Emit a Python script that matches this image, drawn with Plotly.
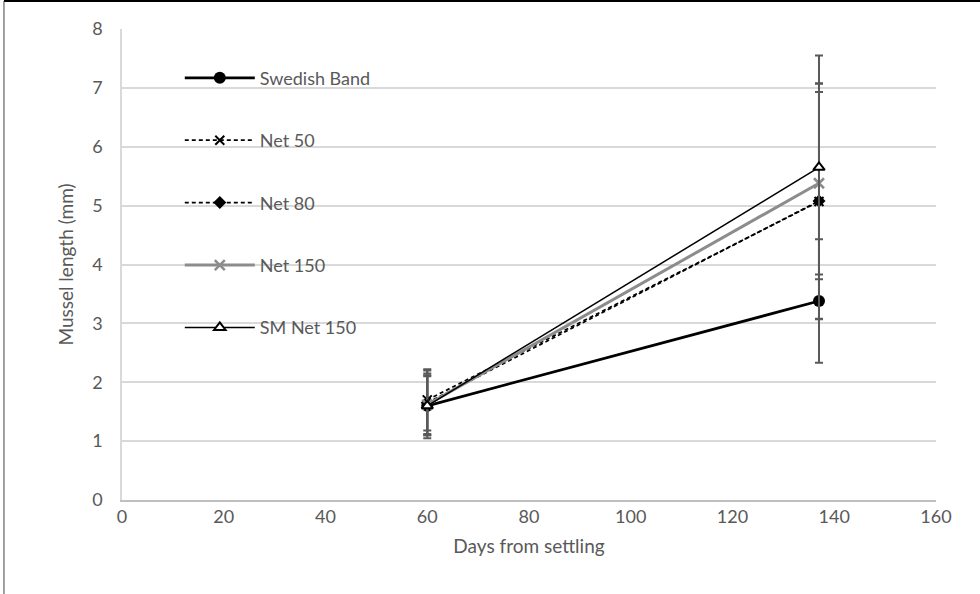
import plotly.graph_objects as go

days = [60, 137]
series_names = ["Swedish Band", "Net 50", "Net 80", "Net 150", "SM Net 150"]
swedish_band = [1.60, 3.38]
swedish_band_err = [0.50, 1.05]
net50 = [1.70, 5.07]
net50_err = [0.52, 2.00]
net80 = [1.65, 5.08]
net80_err = [0.55, 2.00]
net150 = [1.62, 5.38]
net150_err = [0.50, 1.55]
smnet150 = [1.60, 5.65]
smnet150_err = [0.55, 1.90]

x_ticks = [0, 20, 40, 60, 80, 100, 120, 140, 160]
y_ticks = [0, 1, 2, 3, 4, 5, 6, 7, 8]

FONT = "Lato"
TXT = "#595959"
ERR = "#595959"

styles = [
    dict(y=swedish_band, e=swedish_band_err, line=dict(color="black", width=2.75),
         marker=dict(symbol="circle", size=12, color="black")),
    dict(y=net50, e=net50_err, line=dict(color="black", width=1.75, dash="4px,3px"),
         marker=dict(symbol="x-thin", size=9, color="black", line=dict(color="black", width=2))),
    dict(y=net80, e=net80_err, line=dict(color="black", width=1.75, dash="4px,3px"),
         marker=dict(symbol="diamond", size=10, color="black")),
    dict(y=net150, e=net150_err, line=dict(color="#8c8c8c", width=3),
         marker=dict(symbol="x-thin", size=10, color="#8c8c8c", line=dict(color="#8c8c8c", width=2.5))),
    dict(y=smnet150, e=smnet150_err, line=dict(color="black", width=1.5),
         marker=dict(symbol="triangle-up", size=10, color="white", line=dict(color="black", width=2))),
]

fig = go.Figure()
for i, (name, s) in enumerate(zip(series_names, styles)):
    fig.add_trace(go.Scatter(
        x=days, y=s["y"], name=name, mode="lines+markers",
        line=s["line"], marker=s["marker"], legendgroup=f"g{i}",
        error_y=dict(type="data", array=s["e"], visible=True, color=ERR, thickness=2, width=4),
    ))

fig.update_layout(
    width=980, height=594,
    margin=dict(l=122, r=44, t=29, b=94),
    paper_bgcolor="white", plot_bgcolor="white",
    font=dict(family=FONT, color=TXT, size=17),
    legend=dict(x=0.071, y=0.935, xanchor="left", yanchor="top",
                bgcolor="rgba(0,0,0,0)", itemwidth=70, tracegroupgap=36,
                font=dict(family=FONT, size=18, color=TXT)),
    xaxis=dict(range=[0, 160], tickvals=x_ticks, showgrid=False, zeroline=False,
               showline=True, linecolor="#bfbfbf", linewidth=1.5,
               tickfont=dict(family=FONT, size=18, color=TXT), ticks="",
               title=dict(text="Days from settling", font=dict(family=FONT, size=19, color=TXT), standoff=13)),
    yaxis=dict(range=[0, 8], tickvals=y_ticks, showgrid=True, gridcolor="#d9d9d9", gridwidth=1.5,
               zeroline=False, showline=True, linecolor="#d9d9d9", linewidth=1.5,
               tickfont=dict(family=FONT, size=18, color=TXT), ticklabelstandoff=14, ticks="",
               title=dict(text="Mussel length (mm)", font=dict(family=FONT, size=19, color=TXT), standoff=14)),
    shapes=[
        dict(type="line", xref="paper", yref="paper", x0=-0.145, x1=1.2, y0=1.0594, y1=1.0594,
             line=dict(color="black", width=2)),
        dict(type="line", xref="paper", yref="paper", x0=-0.145, x1=-0.145, y0=1.0594, y1=-0.3,
             line=dict(color="#444444", width=1)),
    ],
)

fig.write_html("out.html")
